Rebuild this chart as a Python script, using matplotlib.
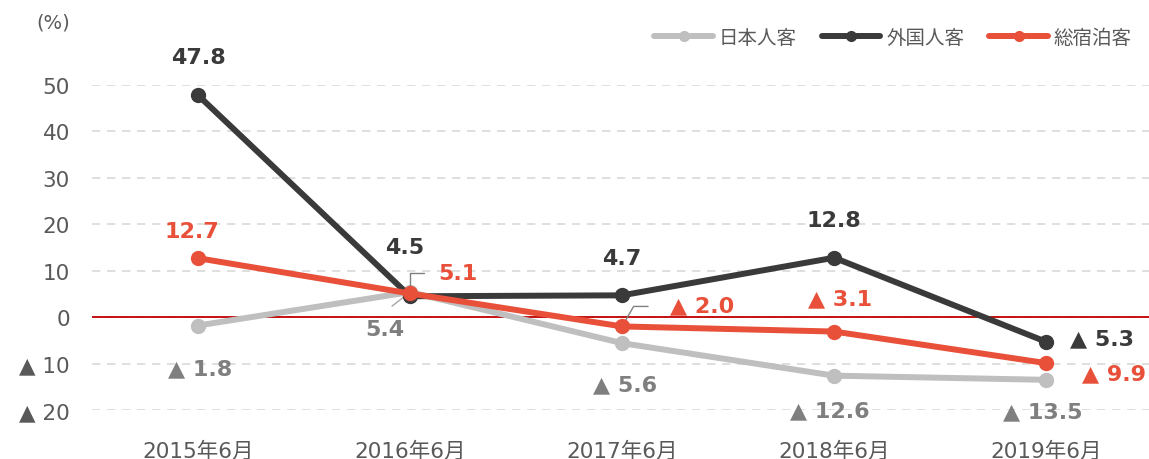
import matplotlib.pyplot as plt
from matplotlib.ticker import FuncFormatter

plt.rcParams['font.family'] = ['DejaVu Sans', 'Noto Sans CJK JP']

months = ["2015年6月", "2016年6月", "2017年6月", "2018年6月", "2019年6月"]
japanese = [-1.8, 5.4, -5.6, -12.6, -13.5]
foreign = [47.8, 4.5, 4.7, 12.8, -5.3]
total = [12.7, 5.1, -2.0, -3.1, -9.9]

series_names = ["日本人客", "外国人客", "総宿泊客"]
line_colors = ["#BFBFBF", "#3A3A3A", "#E8503A"]
label_colors = ["#7F7F7F", "#3A3A3A", "#E8503A"]

# label offsets in pixels (dx, dy), dy up
offsets = [
    [(2, -43), (-25, -37), (3, -41), (-4, -35), (-3, -31)],
    [(0, 38), (-5, 49), (0, 37), (0, 38), (56, 3)],
    [(-6, 27), (48, 20), (80, 21), (6, 33), (68, -10)],
]


def fmt(v):
    return f"▲ {abs(v):.1f}" if v < 0 else f"{v:.1f}"


fig = plt.figure(figsize=(11.49, 4.6), dpi=100)
ax = fig.add_axes([0.0801, 0.1065, 0.9226, 0.7065])

x = range(len(months))
for i, data in enumerate([japanese, foreign, total]):
    ax.plot(x, data, color=line_colors[i], lw=4.3, marker="o", ms=10,
            label=series_names[i], solid_capstyle="round", zorder=3 + i)

for i, data in enumerate([japanese, foreign, total]):
    for j, v in enumerate(data):
        dx, dy = offsets[i][j]
        ax.annotate(fmt(v), (j, v), xytext=(dx, dy), textcoords="offset pixels",
                    ha="center", va="center", fontsize=16, fontweight="bold",
                    color=label_colors[i], annotation_clip=False, zorder=10)

# leader lines
ax.annotate("", (1, 5.1), xytext=(14, 20), textcoords="offset pixels",
            arrowprops=dict(arrowstyle="-", color="#808080", lw=1,
                            connectionstyle="angle,angleA=0,angleB=90,rad=0",
                            shrinkA=0, shrinkB=3))
ax.annotate("", (1, 5.4), xytext=(-18, -14), textcoords="offset pixels",
            arrowprops=dict(arrowstyle="-", color="#A6A6A6", lw=1,
                            shrinkA=0, shrinkB=0))
ax.annotate("", (2, -2.0), xytext=(26, 20), textcoords="offset pixels",
            arrowprops=dict(arrowstyle="-", color="#808080", lw=1,
                            connectionstyle="angle,angleA=0,angleB=60,rad=0",
                            shrinkA=0, shrinkB=4))

ax.axhline(0, color="#C00000", lw=1.3, zorder=2)
ax.set_xlim(-0.5, 4.5)
ax.set_ylim(-20, 50)
ax.set_yticks(range(-20, 51, 10))
ax.yaxis.set_major_formatter(FuncFormatter(lambda v, p: f"▲ {abs(int(v))}" if v < 0 else f"{int(v)}"))
ax.set_xticks(list(x))
ax.set_xticklabels(months)
ax.tick_params(length=0, labelsize=15.5, colors="#595959")
ax.tick_params(axis="x", pad=22)
ax.tick_params(axis="y", pad=16)
ax.grid(axis="y", color="#D9D9D9", ls=(0, (5, 4)), lw=1.2)
ax.set_axisbelow(True)
for s in ax.spines.values():
    s.set_visible(False)

fig.text(0.032, 0.95, "(%)", fontsize=14, color="#595959", va="center")

leg = fig.legend(loc="upper right", bbox_to_anchor=(1.0, 0.975), ncol=3,
                 frameon=False, fontsize=14, handlelength=3.0, columnspacing=1.3,
                 handletextpad=0.3, markerscale=0.7)
for t in leg.get_texts():
    t.set_color("#595959")

fig.savefig("out.png", dpi=100)
